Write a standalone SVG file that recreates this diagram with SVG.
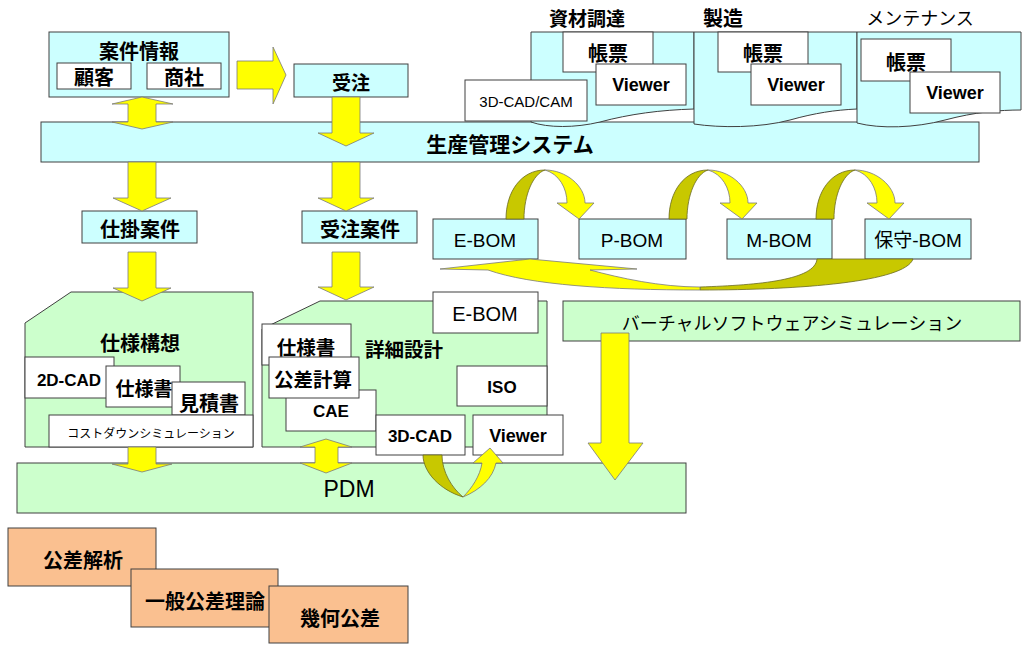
<svg xmlns="http://www.w3.org/2000/svg" width="1027" height="651" viewBox="0 0 1027 651">
<style>
.cy{fill:#CCFFFF;stroke:#404040;stroke-width:1}
.gr{fill:#CCFFCC;stroke:#404040;stroke-width:1}
.wh{fill:#FFFFFF;stroke:#404040;stroke-width:1}
.or{fill:#FAC090;stroke:#404040;stroke-width:1}
.ar{fill:#FFFF00;stroke:#7a7a7a;stroke-width:0.8}
.ol{fill:#C8C800;stroke:#6a6a20;stroke-width:0.8}
text{fill:#000;text-anchor:middle;dominant-baseline:central}
.jb{font-family:"Noto Sans CJK JP",sans-serif;font-weight:bold}
.jr{font-family:"Noto Sans CJK JP",sans-serif;font-weight:normal}
.lb{font-family:"Liberation Sans","Noto Sans CJK JP",sans-serif;font-weight:bold}
.lr{font-family:"Liberation Sans","Noto Sans CJK JP",sans-serif;font-weight:normal}
</style>
<rect width="1027" height="651" fill="#FFFFFF"/>

<g id="seisan">
<rect class="cy" x="41" y="122" width="938" height="40"/>
<text class="jb" x="510" y="143" font-size="21">生産管理システム</text>
</g>

<g id="shizai">
<text class="jb" x="587" y="17" font-size="19">資材調達</text>
<path class="cy" d="M531,122 C548,128 575,128 600,122 C630,114 660,110 694,109 L694,32 L531,32 Z"/>
<rect class="wh" x="563" y="32" width="90" height="40"/>
<text class="jb" x="608" y="52" font-size="20">帳票</text>
<rect class="wh" x="596" y="64" width="90" height="41"/>
<text class="lb" x="641" y="85" font-size="18">Viewer</text>
<rect class="wh" x="465" y="80" width="122" height="41"/>
<text class="lr" x="526" y="101" font-size="15">3D-CAD/CAM</text>
</g>

<g id="seizo">
<text class="jb" x="723" y="17" font-size="20">製造</text>
<path class="cy" d="M694,124 C720,128 760,128 790,120 C815,113 835,110 857,109 L857,32 L694,32 Z"/>
<rect class="wh" x="718" y="32" width="90" height="40"/>
<text class="jb" x="763" y="52" font-size="20">帳票</text>
<rect class="wh" x="751" y="64" width="90" height="41"/>
<text class="lb" x="796" y="85" font-size="18">Viewer</text>
</g>

<g id="maintenance">
<text class="jr" x="920" y="17" font-size="18">メンテナンス</text>
<path class="cy" d="M857,123 C880,129 915,128 945,120 C975,112 1000,110 1021,110 L1021,32 L857,32 Z"/>
<rect class="wh" x="861" y="39" width="90" height="42"/>
<text class="jb" x="906" y="61" font-size="20">帳票</text>
<rect class="wh" x="910" y="72" width="90" height="41"/>
<text class="lb" x="955" y="93" font-size="18">Viewer</text>
</g>

<g id="anken">
<rect class="cy" x="49" y="32" width="180" height="65"/>
<text class="jb" x="139" y="50" font-size="20">案件情報</text>
<rect class="wh" x="57" y="63" width="74" height="26"/>
<text class="jb" x="94" y="76" font-size="20">顧客</text>
<rect class="wh" x="147" y="63" width="74" height="26"/>
<text class="jb" x="184" y="76" font-size="20">商社</text>
</g>

<g id="juchu">
<rect class="cy" x="294" y="64" width="114" height="33"/>
<text class="jb" x="351" y="81" font-size="19">受注</text>
</g>

<g id="shikake">
<rect class="cy" x="82" y="211" width="115" height="32"/>
<text class="jb" x="140" y="228" font-size="20">仕掛案件</text>
</g>

<g id="juchuanken">
<rect class="cy" x="302" y="211" width="115" height="32"/>
<text class="jb" x="360" y="228" font-size="20">受注案件</text>
</g>

<g id="ebom">
<rect class="cy" x="433" y="219" width="105" height="40"/>
<text class="lr" x="485" y="240" font-size="19">E-BOM</text>
</g>
<g id="pbom">
<rect class="cy" x="579" y="219" width="107" height="40"/>
<text class="lr" x="632" y="240" font-size="19">P-BOM</text>
</g>
<g id="mbom">
<rect class="cy" x="727" y="219" width="105" height="40"/>
<text class="lr" x="779" y="240" font-size="19">M-BOM</text>
</g>
<g id="hoshubom">
<rect class="cy" x="865" y="219" width="106" height="40"/>
<text class="lr" x="918" y="240" font-size="19">保守-BOM</text>
</g>

<g id="shiyokoso">
<path class="gr" d="M25,323 L71,292 L253,292 L253,447 L25,447 Z"/>
<text class="jb" x="140" y="342" font-size="20">仕様構想</text>
<rect class="wh" x="25" y="357" width="89" height="41"/>
<text class="lb" x="69" y="380" font-size="17">2D-CAD</text>
<rect class="wh" x="106" y="366" width="74" height="41"/>
<text class="jb" x="144" y="387" font-size="19">仕様書</text>
<rect class="wh" x="172" y="382" width="73" height="33"/>
<text class="jb" x="209" y="402" font-size="20">見積書</text>
<rect class="wh" x="49" y="415" width="204" height="32"/>
<text class="jr" x="151" y="432" font-size="12">コストダウンシミュレーション</text>
</g>

<g id="shosai">
<path class="gr" d="M262,329 L320,301 L547,301 L547,447 L262,447 Z"/>
<text class="jb" x="404" y="348" font-size="19.5">詳細設計</text>
<rect class="wh" x="433" y="292" width="105" height="41"/>
<text class="lr" x="485" y="314" font-size="20">E-BOM</text>
<rect class="wh" x="262" y="324" width="89" height="41"/>
<text class="jb" x="306" y="346" font-size="19.5">仕様書</text>
<rect class="wh" x="286" y="390" width="90" height="41"/>
<text class="lb" x="331" y="411" font-size="17">CAE</text>
<rect class="wh" x="269" y="357" width="90" height="41"/>
<text class="jb" x="313" y="378" font-size="19.5">公差計算</text>
<rect class="wh" x="457" y="366" width="90" height="40"/>
<text class="lb" x="502" y="387" font-size="17">ISO</text>
<rect class="wh" x="376" y="415" width="89" height="40"/>
<text class="lb" x="420" y="436" font-size="17">3D-CAD</text>
<rect class="wh" x="473" y="415" width="90" height="40"/>
<text class="lb" x="518" y="436" font-size="18">Viewer</text>
</g>

<g id="virtual">
<rect class="gr" x="563" y="301" width="457" height="40"/>
<text class="jr" x="792" y="322" font-size="18">バーチャルソフトウェアシミュレーション</text>
</g>

<g id="pdm">
<rect class="gr" x="17" y="463" width="669" height="50"/>
<text class="lr" x="349" y="489" font-size="23">PDM</text>
</g>

<g id="kosakaiseki">
<rect class="or" x="8" y="528" width="148" height="58"/>
<text class="jb" x="83" y="559" font-size="20">公差解析</text>
</g>
<g id="ippan">
<rect class="or" x="131" y="569" width="147" height="58"/>
<text class="jb" x="205" y="600" font-size="20">一般公差理論</text>
</g>
<g id="kika">
<rect class="or" x="269" y="586" width="139" height="57"/>
<text class="jb" x="340" y="617" font-size="20">幾何公差</text>
</g>

<g id="connectors">
<polygon class="ar" points="142,97 173,104 156,104 156,122 173,122 142,129 112,122 128,122 128,104 112,104"/>
<polygon class="ar" points="237,61 273,61 273,47 286,75 273,104 273,89 237,89"/>
<polygon class="ar" points="332,97 360,97 360,133 374,133 346,146 318,133 332,133"/>
<polygon class="ar" points="128,162 156,162 156,198 171,198 142,211 113,198 128,198"/>
<polygon class="ar" points="332,162 360,162 360,198 374,198 346,211 318,198 332,198"/>
<polygon class="ar" points="128,252 156,252 156,288 171,288 142,301 113,288 128,288"/>
<polygon class="ar" points="332,252 360,252 360,287 374,287 346,300 318,287 332,287"/>
<polygon class="ar" points="128,447 156,447 156,464 172,464 142,472 112,464 128,464"/>
<polygon class="ar" points="326,439 352,447 338,447 338,463 352,463 326,473 300,463 315,463 315,447 300,447"/>
<polygon class="ar" points="601,333 629,333 629,443 643,443 615,480 588,443 601,443"/>

<g id="arc1">
<path class="ol" d="M506,219 C506,192 521,170 545,170 C533,174 524,195 524,219 Z"/>
<path class="ar" d="M545,170 C566,170 585,186 585,203 L594,203 L579,219 L557,203 L567,203 C567,188 559,174 545,170 Z"/>
</g>
<g transform="translate(163,0)">
<path class="ol" d="M506,219 C506,192 521,170 545,170 C533,174 524,195 524,219 Z"/>
<path class="ar" d="M545,170 C566,170 585,186 585,203 L594,203 L579,219 L557,203 L567,203 C567,188 559,174 545,170 Z"/>
</g>
<g transform="translate(310,0)">
<path class="ol" d="M506,219 C506,192 521,170 545,170 C533,174 524,195 524,219 Z"/>
<path class="ar" d="M545,170 C566,170 585,186 585,203 L594,203 L579,219 L557,203 L567,203 C567,188 559,174 545,170 Z"/>
</g>

<path class="ol" d="M913,259 C905,282 800,290 700,290 L700,287 C760,285 815,280 817,259 Z"/>
<path class="ar" d="M700,290 C610,290 530,285 488,270 L440,269 L530,259 L637,269 L590,270 C620,278 660,287 700,287 Z"/>

<path class="ol" d="M423,455 C423,472 440,490 463,497 C452,488 442,472 442,455 Z"/>
<path class="ar" d="M463,497 C480,490 493,478 496,463 L503,463 L490,448 L473,463 L482,463 C480,476 472,488 463,497 Z"/>
</g>
</svg>
